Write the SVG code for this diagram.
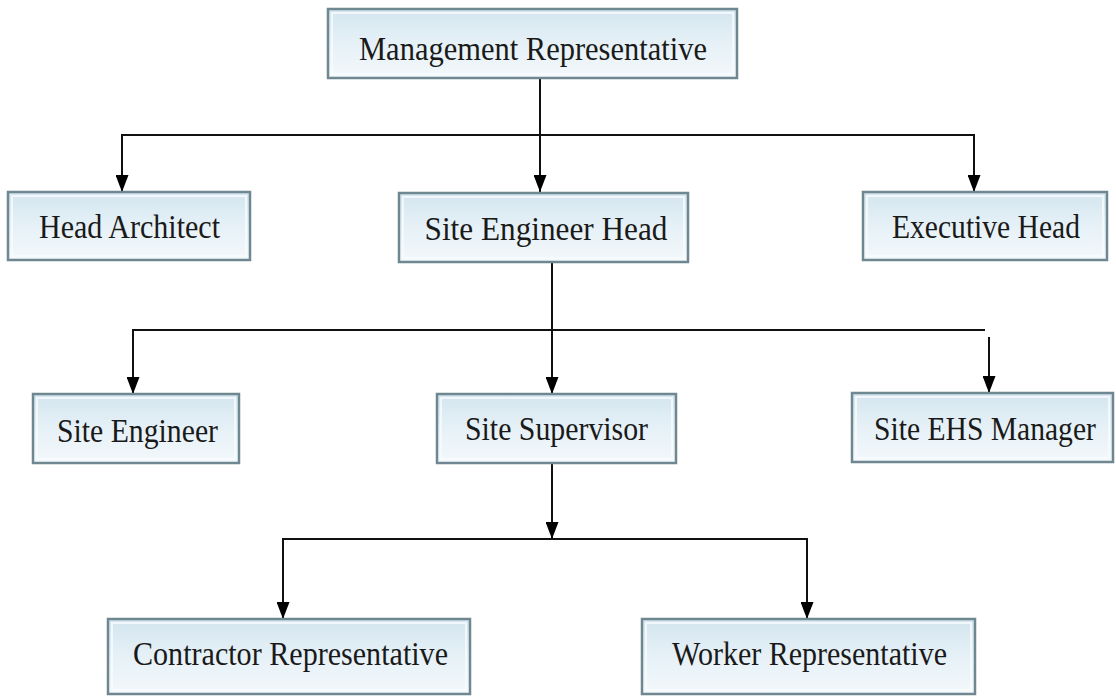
<svg xmlns="http://www.w3.org/2000/svg" width="1116" height="696" viewBox="0 0 1116 696">
<defs>
<linearGradient id="bf" x1="0" y1="0" x2="0" y2="1">
<stop offset="0" stop-color="#d3e5ef"/>
<stop offset="0.5" stop-color="#e6f1f7"/>
<stop offset="1" stop-color="#f3f8fb"/>
</linearGradient>
<marker id="ah" markerUnits="userSpaceOnUse" markerWidth="17" markerHeight="13" refX="17" refY="6.5" orient="auto">
<path d="M0,0 L17,6.5 L0,13 z" fill="#000"/>
</marker>
<style>
.box{fill:url(#bf);stroke:#6f8791;stroke-width:2.5}
.inner{fill:none;stroke:#f7fbfd;stroke-width:2;opacity:0.8}
.t{font-family:"Liberation Serif","Times New Roman",serif;font-size:34px;fill:#1a1a1a;text-anchor:middle}
.c{fill:none;stroke:#111;stroke-width:2}
</style>
</defs>
<rect width="1116" height="696" fill="#fff"/>
<g id="connectors">
<line class="c" x1="540" y1="78" x2="540" y2="192" marker-end="url(#ah)"/>
<line class="c" x1="121" y1="135" x2="975" y2="135"/>
<line class="c" x1="122" y1="135" x2="122" y2="192" marker-end="url(#ah)"/>
<line class="c" x1="974" y1="135" x2="974" y2="192" marker-end="url(#ah)"/>
<line class="c" x1="552" y1="262" x2="552" y2="394" marker-end="url(#ah)"/>
<line class="c" x1="132" y1="330" x2="985" y2="330"/>
<line class="c" x1="133" y1="330" x2="133" y2="394" marker-end="url(#ah)"/>
<line class="c" x1="989" y1="337" x2="989" y2="393" marker-end="url(#ah)"/>
<line class="c" x1="552" y1="463" x2="552" y2="539" marker-end="url(#ah)"/>
<line class="c" x1="282" y1="539" x2="808" y2="539"/>
<line class="c" x1="283" y1="539" x2="283" y2="619" marker-end="url(#ah)"/>
<line class="c" x1="807" y1="539" x2="807" y2="619" marker-end="url(#ah)"/>
</g>
<g id="management-representative">
<rect class="box" x="328" y="9" width="409" height="69"/>
<rect class="inner" x="332" y="13" width="401" height="61"/>
<text class="t" x="533" y="60" textLength="348" lengthAdjust="spacingAndGlyphs">Management Representative</text>
</g>
<g id="head-architect">
<rect class="box" x="8" y="192" width="242" height="68"/>
<rect class="inner" x="12" y="196" width="234" height="60"/>
<text class="t" x="129.5" y="238" textLength="181" lengthAdjust="spacingAndGlyphs">Head Architect</text>
</g>
<g id="site-engineer-head">
<rect class="box" x="399" y="193" width="289" height="69"/>
<rect class="inner" x="403" y="197" width="281" height="61"/>
<text class="t" x="546" y="240" textLength="243" lengthAdjust="spacingAndGlyphs">Site Engineer Head</text>
</g>
<g id="executive-head">
<rect class="box" x="863" y="192" width="244" height="68"/>
<rect class="inner" x="867" y="196" width="236" height="60"/>
<text class="t" x="986" y="238" textLength="188" lengthAdjust="spacingAndGlyphs">Executive Head</text>
</g>
<g id="site-engineer">
<rect class="box" x="33" y="394" width="206" height="69"/>
<rect class="inner" x="37" y="398" width="198" height="61"/>
<text class="t" x="137.5" y="442" textLength="161" lengthAdjust="spacingAndGlyphs">Site Engineer</text>
</g>
<g id="site-supervisor">
<rect class="box" x="437" y="394" width="239" height="69"/>
<rect class="inner" x="441" y="398" width="231" height="61"/>
<text class="t" x="556.5" y="440" textLength="183" lengthAdjust="spacingAndGlyphs">Site Supervisor</text>
</g>
<g id="site-ehs-manager">
<rect class="box" x="852" y="393" width="261" height="69"/>
<rect class="inner" x="856" y="397" width="253" height="61"/>
<text class="t" x="0" y="0" transform="translate(985,440) scale(0.87,1)">Site EHS Manager</text>
</g>
<g id="contractor-representative">
<rect class="box" x="108" y="619" width="362" height="75"/>
<rect class="inner" x="112" y="623" width="354" height="67"/>
<text class="t" x="290.5" y="665" textLength="315" lengthAdjust="spacingAndGlyphs">Contractor Representative</text>
</g>
<g id="worker-representative">
<rect class="box" x="642" y="619" width="333" height="75"/>
<rect class="inner" x="646" y="623" width="325" height="67"/>
<text class="t" x="809.5" y="665" textLength="275" lengthAdjust="spacingAndGlyphs">Worker Representative</text>
</g>
</svg>
